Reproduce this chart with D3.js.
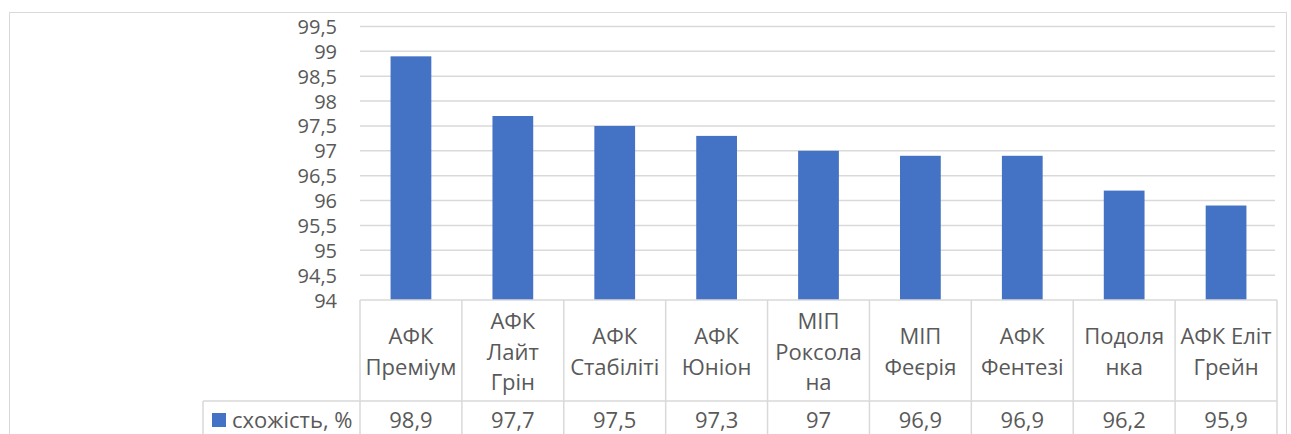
<!DOCTYPE html>
<html>
<head>
<meta charset="utf-8">
<script src="https://cdn.jsdelivr.net/npm/d3@7/dist/d3.min.js"></script>
<style>
  html, body { margin: 0; padding: 0; background: #fff; }
  svg { display: block; }
  text { font-family: "Open Sans", "Noto Sans", sans-serif; fill: #595959; }
</style>
</head>
<body>
<svg id="chart" width="1291" height="434"></svg>
<script>
// ---- data ----
const categories = ["АФК Преміум", "АФК Лайт Грін", "АФК Стабіліті", "АФК Юніон", "МІП Роксолана", "МІП Феєрія", "АФК Фентезі", "Подолянка", "АФК Еліт Грейн"];
const tickLabels = ["АФК\nПреміум", "АФК\nЛайт\nГрін", "АФК\nСтабіліті", "АФК\nЮніон", "МІП\nРоксола\nна", "МІП\nФеєрія", "АФК\nФентезі", "Подоля\nнка", "АФК Еліт\nГрейн"];
const seriesName = "схожість, %";
const values = [98.9, 97.7, 97.5, 97.3, 97.0, 96.9, 96.9, 96.2, 95.9];
const yTicks = [94, 94.5, 95, 95.5, 96, 96.5, 97, 97.5, 98, 98.5, 99, 99.5];

// ---- layout ----
const svg = d3.select("#chart");
const plotLeft = 360, plotRight = 1277, plotTop = 26.5, plotBottom = 300;
const row1Bottom = 401, legendLeft = 203, svgBottom = 434;
const grid = "#d9d9d9";
const barColor = "#4472c4";
const fmt = v => String(v).replace(".", ",");

// outer border
svg.append("rect").attr("x", 9.5).attr("y", 12.5).attr("width", 1277).attr("height", 440)
  .attr("fill", "none").attr("stroke", grid).attr("stroke-width", 1);

const x = d3.scaleBand().domain(categories).range([plotLeft, plotRight])
  .paddingInner(0.6).paddingOuter(0.3);
const y = d3.scaleLinear().domain([94, 99.5]).range([plotBottom, plotTop]);

// gridlines
svg.append("g").selectAll("line").data(yTicks.filter(t => t > 94)).join("line")
  .attr("x1", plotLeft).attr("x2", plotRight - 2)
  .attr("y1", d => y(d)).attr("y2", d => y(d))
  .attr("stroke", grid).attr("stroke-width", 1.5);

// y axis labels
const yAxis = d3.axisLeft(y).tickValues(yTicks).tickSize(0).tickPadding(0).tickFormat(fmt);
const ya = svg.append("g").attr("transform", "translate(337,0)").call(yAxis);
ya.select(".domain").remove();
ya.selectAll("text").attr("font-size", 20).attr("fill", "#595959")
  .attr("font-family", "'Open Sans', sans-serif").attr("dy", "0.35em");

// bars
svg.append("g").selectAll("rect").data(values).join("rect")
  .attr("x", (d, i) => x(categories[i]))
  .attr("width", x.bandwidth())
  .attr("y", d => y(d))
  .attr("height", d => y(94) - y(d))
  .attr("fill", barColor);

// ---- data table ----
const step = x.step();
const t = svg.append("g");
// top line (category axis)
t.append("line").attr("x1", plotLeft).attr("x2", plotRight).attr("y1", plotBottom).attr("y2", plotBottom)
  .attr("stroke", grid).attr("stroke-width", 1.5);
// row separator
t.append("line").attr("x1", legendLeft).attr("x2", plotRight).attr("y1", row1Bottom).attr("y2", row1Bottom)
  .attr("stroke", grid).attr("stroke-width", 1.5);
// vertical lines
const bounds = d3.range(categories.length + 1).map(i => plotLeft + i * step);
t.selectAll("line.v").data(bounds).join("line").attr("class", "v")
  .attr("x1", d => d).attr("x2", d => d).attr("y1", plotBottom).attr("y2", svgBottom)
  .attr("stroke", grid).attr("stroke-width", 1.5);
t.append("line").attr("x1", legendLeft).attr("x2", legendLeft).attr("y1", row1Bottom).attr("y2", svgBottom)
  .attr("stroke", grid).attr("stroke-width", 1.5);

// category labels
const lineH = 30.5, catCenter = 352;
categories.forEach((c, i) => {
  const lines = tickLabels[i].split("\n");
  const cx = x(c) + x.bandwidth() / 2;
  const start = catCenter - (lines.length - 1) * lineH / 2;
  const txt = t.append("text").attr("text-anchor", "middle").attr("font-size", 22);
  lines.forEach((l, j) => {
    txt.append("tspan").attr("x", cx).attr("y", start + j * lineH).attr("dy", "0.35em").text(l);
  });
});

// values row
t.selectAll("text.val").data(values).join("text").attr("class", "val")
  .attr("x", (d, i) => x(categories[i]) + x.bandwidth() / 2)
  .attr("y", 420.5).attr("dy", "0.35em")
  .attr("text-anchor", "middle").attr("font-size", 22)
  .text(d => fmt(d));

// legend key
t.append("rect").attr("x", 212).attr("y", 413).attr("width", 14).attr("height", 14).attr("fill", barColor);
t.append("text").attr("x", 232).attr("y", 420.5).attr("dy", "0.35em").attr("font-size", 22).text(seriesName);
</script>
</body>
</html>
